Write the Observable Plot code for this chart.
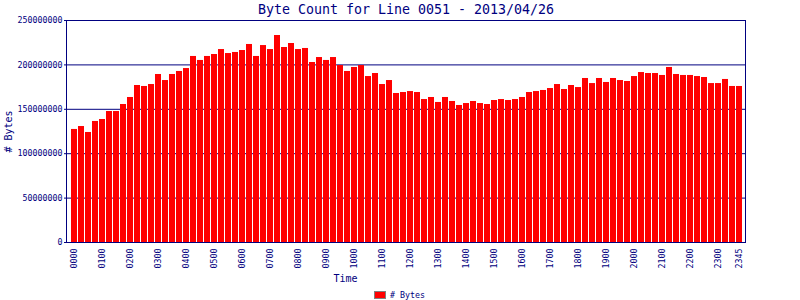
<!DOCTYPE html>
<html>
<head>
<meta charset="utf-8">
<script src="https://cdn.jsdelivr.net/npm/d3@7"></script>
<script src="https://cdn.jsdelivr.net/npm/@observablehq/plot@0.6"></script>
<style>
  html, body { margin: 0; padding: 0; background: #fff; }
  #wrap { position: relative; width: 800px; height: 300px; overflow: hidden; }
  #legend { position: absolute; left: 374px; top: 290px; display: flex; align-items: center;
            font-family: "DejaVu Sans Mono", monospace; font-size: 8.3px; color: #000080; }
  #legend .sw { width: 10px; height: 6px; background: #ff0000; border: 1px solid #808080; margin-right: 4px; }
</style>
</head>
<body>
<div id="wrap"><div id="legend"><span class="sw"></span><span># Bytes</span></div></div>
<script>
const times = [
  "0000","0015","0030","0045","0100","0115","0130","0145","0200","0215","0230","0245",
  "0300","0315","0330","0345","0400","0415","0430","0445","0500","0515","0530","0545",
  "0600","0615","0630","0645","0700","0715","0730","0745","0800","0815","0830","0845",
  "0900","0915","0930","0945","1000","1015","1030","1045","1100","1115","1130","1145",
  "1200","1215","1230","1245","1300","1315","1330","1345","1400","1415","1430","1445",
  "1500","1515","1530","1545","1600","1615","1630","1645","1700","1715","1730","1745",
  "1800","1815","1830","1845","1900","1915","1930","1945","2000","2015","2030","2045",
  "2100","2115","2130","2145","2200","2215","2230","2245","2300","2315","2330","2345"
];
const bytes = [
  127300000,130600000,123900000,136300000,138500000,147500000,147500000,155400000,
  163300000,176800000,175700000,177900000,189200000,182400000,189200000,192600000,
  195900000,209500000,205000000,209500000,211700000,217300000,212800000,214000000,
  216200000,223000000,209500000,221800000,217300000,233100000,219600000,224100000,
  217300000,218500000,202700000,208300000,205000000,208300000,199300000,192600000,
  197100000,199300000,186900000,190300000,177900000,182400000,167800000,168900000,
  170000000,168900000,161000000,163300000,157700000,163300000,158800000,154300000,
  156500000,158800000,156500000,155400000,159900000,161000000,159900000,161000000,
  163300000,168900000,170000000,171200000,173400000,177900000,172300000,176800000,
  174500000,184700000,179000000,184700000,180200000,184700000,182400000,181300000,
  186900000,191400000,190300000,190300000,188100000,197100000,189200000,188100000,
  188100000,186900000,185800000,179000000,179000000,183600000,175700000,175700000
];
const xTickLabels = ["0000","0100","0200","0300","0400","0500","0600","0700","0800","0900","1000","1100",
  "1200","1300","1400","1500","1600","1700","1800","1900","2000","2100","2200","2300","2345"];
const yTicks = [0, 50000000, 100000000, 150000000, 200000000, 250000000];
const gridValues = [50000000, 100000000, 150000000, 200000000];
const titleText = "Byte Count for Line 0051 - 2013/04/26";
const yLabel = "# Bytes";
const xLabel = "Time";

const navy = "#000080";
const mono = "DejaVu Sans Mono";
const data = times.map((t, i) => ({time: t, bytes: bytes[i]}));

const chart = Plot.plot({
  width: 800,
  height: 300,
  marginLeft: 66,
  marginRight: 55,
  marginTop: 20,
  marginBottom: 58,
  style: {fontFamily: mono, color: navy, background: "#fff", overflow: "visible"},
  x: {type: "band", domain: times, range: [71, 742.5], paddingInner: 1/7, paddingOuter: 0, align: 0},
  y: {domain: [0, 250000000], range: [242, 20]},
  marks: [
    Plot.ruleY(gridValues, {stroke: navy, strokeWidth: 1}),
    Plot.barY(data, {x: "time", y: "bytes", fill: "#ff0000", inset: 0}),
    Plot.frame({stroke: navy, strokeWidth: 1}),
    Plot.axisY({ticks: yTicks, tickFormat: d3.format("d"), tickSize: 2, tickPadding: 2,
      fontSize: 8.3, stroke: navy, fill: navy, label: null}),
    Plot.axisX({ticks: xTickLabels, tickRotate: -90, tickSize: 0, tickPadding: 6,
      fontSize: 8.3, fill: navy, label: null}),
    Plot.text([titleText], {frameAnchor: "top", dy: -11, lineAnchor: "middle", textAnchor: "middle",
      fontSize: 13.3, fill: navy, fontFamily: mono}),
    Plot.text([yLabel], {frameAnchor: "left", dx: -58, rotate: -90, textAnchor: "middle", lineAnchor: "middle",
      fontSize: 10, fill: navy, fontFamily: mono}),
    Plot.text([xLabel], {frameAnchor: "bottom", dx: -60.5, dy: 36, textAnchor: "middle", lineAnchor: "middle",
      fontSize: 10, fill: navy, fontFamily: mono})
  ]
});
document.getElementById("wrap").prepend(chart);
</script>
</body>
</html>
